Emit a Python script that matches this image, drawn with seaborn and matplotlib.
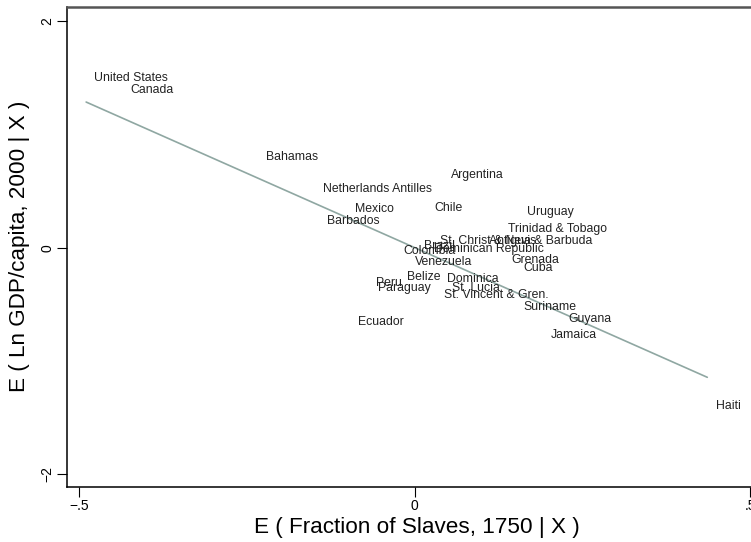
import numpy as np
import pandas as pd
import matplotlib
matplotlib.use("Agg")
import matplotlib.pyplot as plt
import seaborn as sns

# partial regression: residuals of fraction of slaves (1750) and ln GDP per capita (2000)
countries = [
    "United States", "Canada", "Bahamas", "Netherlands Antilles", "Argentina",
    "Mexico", "Chile", "Barbados", "Uruguay", "Trinidad & Tobago",
    "St. Christ & Nevis", "Antigua & Barbuda", "Brazil", "Colombia",
    "Dominican Republic", "Venezuela", "Grenada", "Cuba", "Belize", "Peru",
    "Paraguay", "Dominica", "St. Lucia", "St. Vincent & Gren.", "Suriname",
    "Guyana", "Ecuador", "Jamaica", "Haiti",
]
slaves_resid = [
    -0.490, -0.437, -0.235, -0.150, 0.042,
    -0.102, 0.016, -0.143, 0.155, 0.126,
    0.025, 0.098, 0.001, -0.029,
    0.016, -0.013, 0.132, 0.150, -0.024, -0.071,
    -0.067, 0.035, 0.043, 0.031, 0.150,
    0.216, -0.097, 0.190, 0.436,
]
gdp_resid = [
    1.494, 1.391, 0.800, 0.518, 0.641,
    0.341, 0.353, 0.235, 0.312, 0.165,
    0.059, 0.059, 0.015, -0.026,
    -0.014, -0.124, -0.109, -0.182, -0.261, -0.309,
    -0.353, -0.276, -0.353, -0.417, -0.521,
    -0.632, -0.658, -0.768, -1.397,
]

df = pd.DataFrame({"country": countries, "slaves": slaves_resid, "gdp": gdp_resid})

sns.set_style("white")
plt.rcParams["font.family"] = ["Liberation Sans", "DejaVu Sans"]
plt.rcParams["text.color"] = "black"
plt.rcParams["axes.labelcolor"] = "black"
plt.rcParams["xtick.color"] = "black"
plt.rcParams["ytick.color"] = "black"

fig = plt.figure(figsize=(7.51, 5.42), dpi=100)
# plot region runs a little past the right edge, as in the original export
ax = fig.add_axes([66.7 / 751, 1 - 486.5 / 542, (767 - 66.7) / 751, (486.5 - 6.7) / 542])

sns.regplot(data=df, x="slaves", y="gdp", scatter=False, ci=None, truncate=True,
            line_kws={"color": "#8fa7a2", "lw": 1.2}, ax=ax)

for name, xv, yv in zip(df["country"], df["slaves"], df["gdp"]):
    ax.annotate(name, (xv, yv), xytext=(6, 0), textcoords="offset points",
                ha="left", va="center", fontsize=8.8, color="#222222")

ax.set_xlim(-0.519, 0.525)
ax.set_ylim(-2.107, 2.126)
ax.set_xticks([-0.5, 0, 0.5])
ax.set_xticklabels(["\u2212.5", "0", ".5"])
ax.set_yticks([-2, 0, 2])
ax.set_yticklabels(["\u22122", "0", "2"], rotation=90, va="center")

ax.set_xlabel("E ( Fraction of Slaves, 1750 | X )", fontsize=16.2, labelpad=3)
ax.set_ylabel("E ( Ln GDP/capita, 2000 | X )", fontsize=16.2, labelpad=7)

for side in ["left", "bottom", "top", "right"]:
    ax.spines[side].set_color("black")
    ax.spines[side].set_linewidth(1.1)
ax.spines["top"].set_color("#555555")
ax.spines["top"].set_linewidth(1.8)

ax.tick_params(axis="both", which="major", length=7, width=0.8,
               labelsize=10, bottom=True, left=True, pad=2)

fig.savefig("out.png", dpi=100)
